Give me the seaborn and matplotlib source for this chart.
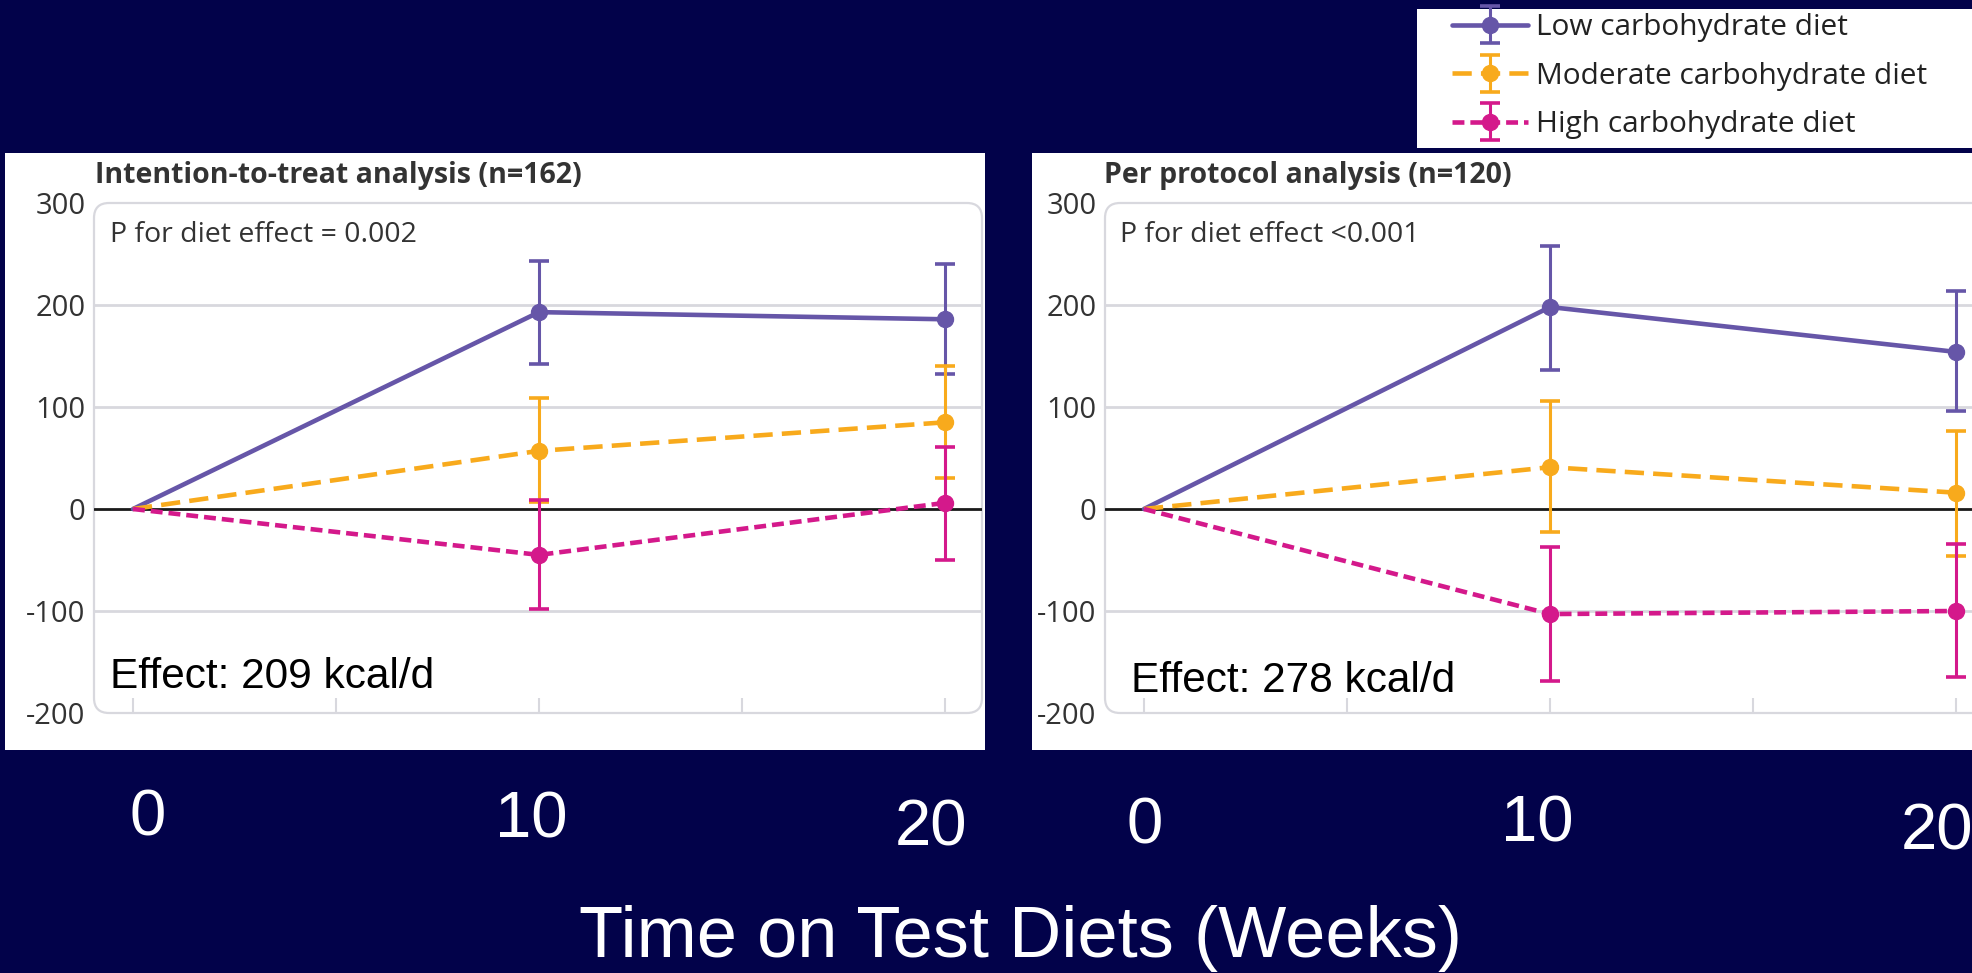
import numpy as np
import pandas as pd
import matplotlib
matplotlib.use("Agg")
import matplotlib.pyplot as plt
import seaborn as sns
from matplotlib.patches import Rectangle, FancyBboxPatch
from matplotlib.lines import Line2D
from matplotlib.legend_handler import HandlerTuple, HandlerErrorbar
from matplotlib.container import ErrorbarContainer

# ---------------- data ----------------
weeks = [0, 10, 20]
diets = ["Low carbohydrate diet", "Moderate carbohydrate diet", "High carbohydrate diet"]

itt_low = [0, 193, 186]
itt_low_lo = [0, 142, 132]
itt_low_hi = [0, 243, 240]
itt_mod = [0, 57, 85]
itt_mod_lo = [0, 7, 30]
itt_mod_hi = [0, 109, 140]
itt_high = [0, -45, 6]
itt_high_lo = [0, -98, -50]
itt_high_hi = [0, 9, 61]

pp_low = [0, 198, 154]
pp_low_lo = [0, 136, 96]
pp_low_hi = [0, 258, 214]
pp_mod = [0, 41, 16]
pp_mod_lo = [0, -23, -46]
pp_mod_hi = [0, 106, 76]
pp_high = [0, -103, -100]
pp_high_lo = [0, -169, -165]
pp_high_hi = [0, -37, -34]

panel_titles = ["Intention-to-treat analysis (n=162)", "Per protocol analysis (n=120)"]
p_texts = ["P for diet effect = 0.002", "P for diet effect <0.001"]
effect_texts = ["Effect: 209 kcal/d", "Effect: 278 kcal/d"]
y_ticks = [-200, -100, 0, 100, 200, 300]
big_xticks = ["0", "10", "20"]
xlabel = "Time on Test Diets (Weeks)"

panels = [
    {"means": [itt_low, itt_mod, itt_high],
     "lo": [itt_low_lo, itt_mod_lo, itt_high_lo],
     "hi": [itt_low_hi, itt_mod_hi, itt_high_hi]},
    {"means": [pp_low, pp_mod, pp_high],
     "lo": [pp_low_lo, pp_mod_lo, pp_high_lo],
     "hi": [pp_low_hi, pp_mod_hi, pp_high_hi]},
]

# ---------------- style ----------------
NAVY = "#02024a"
colors = {diets[0]: "#6656a8", diets[1]: "#f8aa1c", diets[2]: "#d4198b"}
dashes = {diets[0]: "", diets[1]: (4.2, 2.0), diets[2]: (2.6, 1.3)}
GRID = "#d8d8de"
TXT = "#333333"

sns.set_style("white")
plt.rcParams["font.family"] = ["Open Sans", "DejaVu Sans"]

W, H = 1972, 973
fig = plt.figure(figsize=(W / 100, H / 100), dpi=100, facecolor=NAVY)


def fx(px):
    return px / W


def fy(py):
    return 1 - py / H


# white panel backgrounds
fig.add_artist(Rectangle((fx(5), fy(750)), fx(985 - 5), (750 - 153) / H,
                         transform=fig.transFigure, facecolor="white", edgecolor="none", zorder=-5))
fig.add_artist(Rectangle((fx(1032), fy(750)), fx(1972 - 1032 + 5), (750 - 153) / H,
                         transform=fig.transFigure, facecolor="white", edgecolor="none", zorder=-5))
# legend background
fig.add_artist(Rectangle((fx(1417), fy(148)), fx(1972 - 1417 + 5), (148 - 9) / H,
                         transform=fig.transFigure, facecolor="white", edgecolor="none", zorder=-5))

ax_left_px = [94, 1105]
box_w, box_top, box_bot = 888, 203, 713
xlim = (-0.96, 20.91)

eb_handles = None
for i, (axl, pdata) in enumerate(zip(ax_left_px, panels)):
    ax = fig.add_axes([fx(axl), fy(box_bot), fx(box_w), (box_bot - box_top) / H])
    ax.set_facecolor("white")
    for s in ax.spines.values():
        s.set_visible(False)
    ax.set_xlim(*xlim)
    ax.set_ylim(-200, 300)

    # rounded frame
    frame = FancyBboxPatch((0, 0), 1, 1, boxstyle="round,pad=0,rounding_size=0.017",
                           mutation_aspect=box_w / (box_bot - box_top),
                           transform=ax.transAxes, facecolor="none", edgecolor=GRID,
                           lw=1.6, clip_on=False, zorder=0.5)
    ax.add_patch(frame)
    for yv in [200, 100, -100]:
        ax.axhline(yv, color=GRID, lw=2, zorder=1)
    ax.axhline(0, color="#1a1a1a", lw=2, zorder=1.5)

    ax.set_xticks([0, 5, 10, 15, 20])
    ax.set_yticks(y_ticks)
    ax.set_yticklabels([str(t) for t in y_ticks])
    ax.tick_params(axis="x", direction="in", length=11, width=1.5, color=GRID,
                   labelbottom=False, bottom=True)
    ax.tick_params(axis="y", length=0, pad=6, labelsize=21, labelcolor=TXT)
    ax.grid(False)

    # long-form data for seaborn lines
    rows = []
    for d, m in zip(diets, pdata["means"]):
        for w, v in zip(weeks, m):
            rows.append({"week": w, "change": v, "diet": d})
    df = pd.DataFrame(rows)
    sns.lineplot(data=df, x="week", y="change", hue="diet", style="diet",
                 palette=colors, dashes=dashes, lw=3.3, legend=False, ax=ax,
                 zorder=3, estimator=None)
    ax.set_xlabel("")
    ax.set_ylabel("")

    handles = []
    for d, m, lo, hi in zip(diets, pdata["means"], pdata["lo"], pdata["hi"]):
        m = np.array(m[1:], float)
        lo = np.array(lo[1:], float)
        hi = np.array(hi[1:], float)
        eb = ax.errorbar(weeks[1:], m, yerr=[m - lo, hi - m], fmt="o", color=colors[d],
                         ms=11.5, elinewidth=2.2, capsize=7, capthick=2.6, zorder=4,
                         label=d)
        handles.append(eb)
    if i == 0:
        eb_handles = handles

# panel titles and texts (figure coordinates)
title_x = [95, 1104]
p_x = [110, 1120]
eff_x = [110, 1131]
eff_y = [677, 681]
for i in range(2):
    fig.text(fx(title_x[i]), fy(176), panel_titles[i], fontsize=20.5, fontweight="bold",
             color=TXT, ha="left", va="center")
    fig.text(fx(p_x[i]), fy(235), p_texts[i], fontsize=20.5, color=TXT,
             ha="left", va="center")
    fig.text(fx(eff_x[i]), fy(eff_y[i]), effect_texts[i], fontsize=30.5, color="black",
             ha="left", va="center", family=["Liberation Sans", "DejaVu Sans"])

# big x tick labels below panels
big_x_pos = [[148, 531, 931], [1145, 1537, 1937]]
big_y_pos = [[819, 820, 828], [827, 825, 833]]
for i in range(2):
    for lab, xp, yp in zip(big_xticks, big_x_pos[i], big_y_pos[i]):
        fig.text(fx(xp), fy(yp), lab, fontsize=47, color="white", ha="center", va="center",
                 family=["Liberation Sans", "DejaVu Sans"])

fig.text(fx(1020), fy(938), xlabel, fontsize=52, color="white", ha="center", va="center",
         family=["Liberation Sans", "DejaVu Sans"])

# legend
leg_handles = []
for d, eb in zip(diets, eb_handles):
    ln = Line2D([], [], color=colors[d], lw=3.3,
                linestyle="-" if dashes[d] == "" else (0, dashes[d]))
    leg_handles.append((ln, eb))
fig.legend(leg_handles, diets, loc="upper left", bbox_to_anchor=(fx(1452), fy(13)),
           frameon=False, fontsize=21.5, handlelength=2.55, handletextpad=0.25,
           labelspacing=0.66, borderaxespad=0, borderpad=0,
           handler_map={tuple: HandlerTuple(ndivide=1),
                        ErrorbarContainer: HandlerErrorbar(xerr_size=0.5, yerr_size=0.62)},
           labelcolor="#222222")

fig.savefig("out.png", dpi=100, facecolor=NAVY)
